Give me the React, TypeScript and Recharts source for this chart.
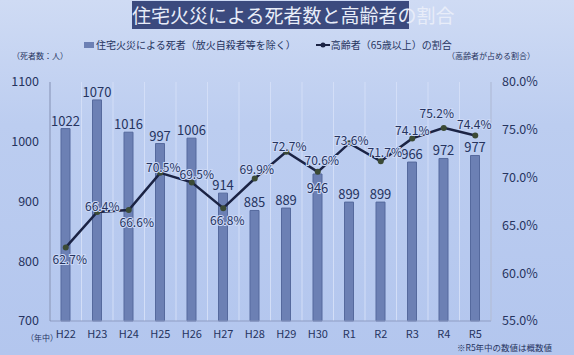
import { ComposedChart, Bar, Line, XAxis, YAxis, CartesianGrid, LabelList, Legend } from 'recharts';

// 年
const years = ['H22', 'H23', 'H24', 'H25', 'H26', 'H27', 'H28', 'H29', 'H30', 'R1', 'R2', 'R3', 'R4', 'R5'];
// 住宅火災による死者（人）
const deaths = [1022, 1070, 1016, 997, 1006, 914, 885, 889, 946, 899, 899, 966, 972, 977];
// 高齢者（65歳以上）の割合（%）
const elderlyShare = [62.7, 66.4, 66.6, 70.5, 69.5, 66.8, 69.9, 72.7, 70.6, 73.6, 71.7, 74.1, 75.2, 74.4];
const leftTicks = [700, 800, 900, 1000, 1100];
const rightTicks = [55, 60, 65, 70, 75, 80];

// label nudges for the percentage labels (dx, dy)
const shareLabelShift = [
  [4, 11], [5, -7], [8, 11], [3, -6], [5, -9], [4, 11], [2, -10],
  [3, -6], [4, -12], [2, -4], [4, -10], [0, -9], [-7, -15], [-1, -12],
];
// the H30 count sits under the line, so push it down
const deathLabelShift = [0, 0, 0, 0, 0, 0, 0, 0, 22, 0, 0, 0, 0, 0];

const FONT = "'Noto Sans CJK JP', 'Noto Sans', sans-serif";
const TEXT = '#26345f';
const BAR = '#6c80b4';
const LINE = '#1b2344';

const chartData = years.map((y, i) => ({ year: y, deaths: deaths[i], share: elderlyShare[i] }));

function ShareLabel(props: any) {
  const { x, y, index, value } = props;
  const [dx, dy] = shareLabelShift[index] || [0, -10];
  return (
    <text
      x={x + dx}
      y={y + dy}
      textAnchor="middle"
      dominantBaseline="central"
      fontSize={12}
      fontFamily={FONT}
      fill={TEXT}
      stroke="#cbd8f6"
      strokeWidth={2}
      paintOrder="stroke"
    >
      {value.toFixed(1)}%
    </text>
  );
}

function DeathLabel(props: any) {
  const { x, y, width, index, value } = props;
  const dy = deathLabelShift[index] || 0;
  return (
    <text
      x={x + width / 2}
      y={y - 3 + dy}
      textAnchor="middle"
      fontSize={13}
      fontFamily={FONT}
      fill={TEXT}
      stroke="#cbd8f6"
      strokeWidth={dy ? 2 : 0}
      paintOrder="stroke"
    >
      {value}
    </text>
  );
}

function LegendContent() {
  return (
    <div style={{ display: 'flex', alignItems: 'center', fontFamily: FONT, fontSize: 10, color: TEXT, paddingLeft: 84 }}>
      <span style={{ display: 'inline-block', width: 10, height: 6, background: BAR, marginRight: 2 }} />
      <span>住宅火災による死者（放火自殺者等を除く）</span>
      <svg width={14} height={8} style={{ marginLeft: 20, marginRight: 1 }}>
        <line x1={0} y1={4} x2={14} y2={4} stroke={LINE} strokeWidth={2} />
        <circle cx={7} cy={4} r={2.5} fill={LINE} />
      </svg>
      <span>高齢者（65歳以上）の割合</span>
    </div>
  );
}

export default function App() {
  return (
    <div
      style={{
        position: 'absolute',
        left: 0,
        top: 0,
        width: 574,
        height: 355,
        overflow: 'hidden',
        background: 'linear-gradient(180deg, #cfdbf4 0%, #bccdf0 35%, #b3c6ee 100%)',
        fontFamily: FONT,
      }}
    >
      <div
        style={{
          position: 'absolute',
          left: 132,
          top: 1,
          width: 277,
          height: 28,
          background: '#3b4a7e',
          color: '#e8edf9',
          fontSize: 19,
          lineHeight: '28px',
          textAlign: 'center',
          whiteSpace: 'nowrap',
        }}
      >
        住宅火災による死者数と高齢者の割合
      </div>
      <div style={{ position: 'absolute', left: 12, top: 50, fontSize: 8, color: TEXT, whiteSpace: 'nowrap' }}>（死者数：人）</div>
      <div style={{ position: 'absolute', right: 39, top: 50, fontSize: 8, color: TEXT, whiteSpace: 'nowrap' }}>（高齢者が占める割合）</div>
      <div style={{ position: 'absolute', left: 26, top: 332, fontSize: 8, color: TEXT, whiteSpace: 'nowrap' }}>（年中）</div>
      <div style={{ position: 'absolute', left: 457, top: 341, fontSize: 8.5, color: TEXT, whiteSpace: 'nowrap' }}>※R5年中の数値は概数値</div>

      <ComposedChart width={574} height={355} data={chartData} margin={{ top: 67, right: 0, bottom: 14, left: 0 }}>
        <CartesianGrid
          horizontal={false}
          stroke="#d3def7"
          verticalCoordinatesGenerator={({ offset }: any) =>
            Array.from({ length: years.length + 1 }, (_, i) => offset.left + (i * offset.width) / years.length)
          }
        />
        <Legend verticalAlign="top" wrapperStyle={{ top: 37, left: 0, width: 574 }} content={<LegendContent />} />
        <XAxis
          dataKey="year"
          height={20}
          tickLine={false}
          tickSize={0}
          tickMargin={9}
          axisLine={{ stroke: '#8f9dc3' }}
          tick={{ fill: TEXT, fontSize: 11, fontFamily: FONT }}
          interval={0}
        />
        <YAxis
          yAxisId="left"
          width={50}
          domain={[700, 1100]}
          ticks={leftTicks}
          tickLine={false}
          tickSize={0}
          tickMargin={11}
          axisLine={{ stroke: '#7a89b0' }}
          tick={{ fill: TEXT, fontSize: 12.5, fontFamily: FONT }}
        />
        <YAxis
          yAxisId="right"
          orientation="right"
          width={83}
          domain={[55, 80]}
          ticks={rightTicks}
          tickFormatter={(v: number) => `${v.toFixed(1)}%`}
          tickLine={false}
          tickSize={0}
          tickMargin={11}
          axisLine={{ stroke: '#a3b0cf' }}
          tick={{ fill: TEXT, fontSize: 12.5, fontFamily: FONT }}
        />
        <Bar yAxisId="left" dataKey="deaths" barSize={9} fill={BAR} stroke="#55699d" strokeWidth={1} isAnimationActive={false}>
          <LabelList dataKey="deaths" content={<DeathLabel />} />
        </Bar>
        <Line
          yAxisId="right"
          dataKey="share"
          stroke={LINE}
          strokeWidth={2.5}
          dot={{ r: 3, fill: '#3b4a35', stroke: 'none' }}
          isAnimationActive={false}
        >
          <LabelList dataKey="share" content={<ShareLabel />} />
        </Line>
      </ComposedChart>
    </div>
  );
}
